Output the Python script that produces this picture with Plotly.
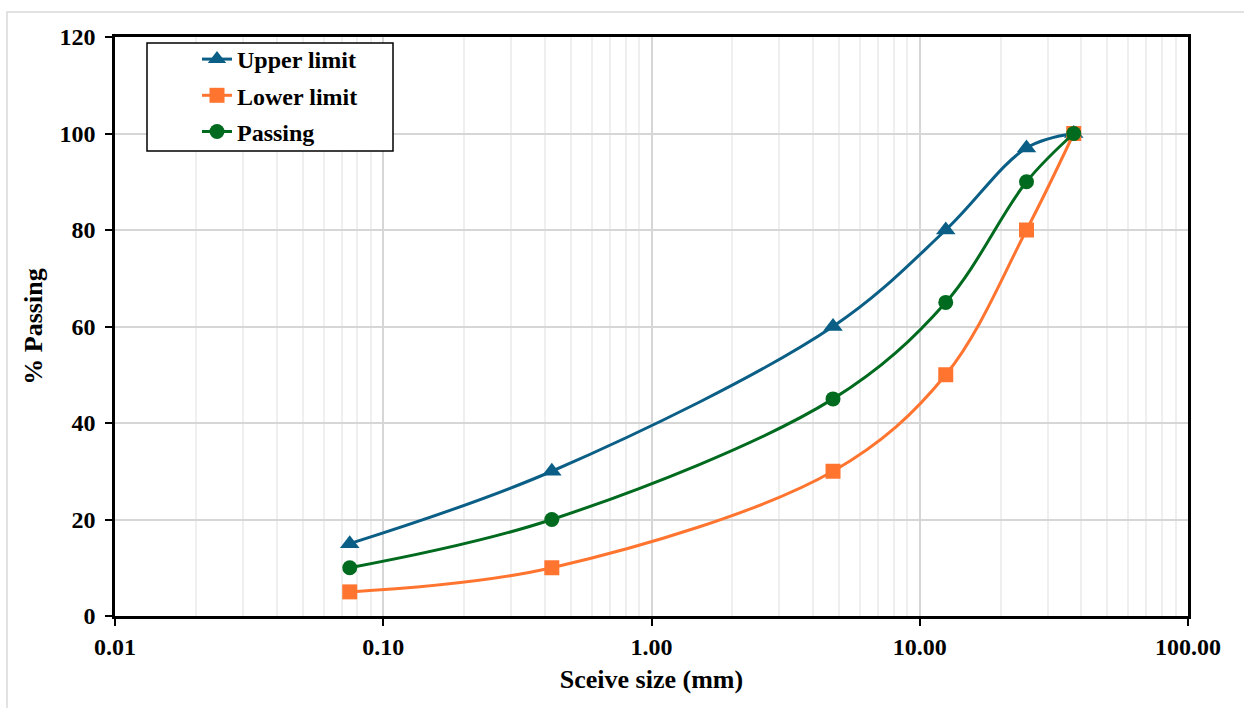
import plotly.graph_objects as go

sieve_mm = [0.075, 0.425, 4.75, 12.5, 25, 37.5]
upper_limit = [15, 30, 60, 80, 97, 100]
lower_limit = [5, 10, 30, 50, 80, 100]
passing = [10, 20, 45, 65, 90, 100]

x_tickvals = [0.01, 0.1, 1, 10, 100]
x_ticktext = ["0.01", "0.10", "1.00", "10.00", "100.00"]
y_tickvals = [0, 20, 40, 60, 80, 100, 120]

FONT = "Liberation Serif, Times New Roman, serif"

series = [
    ("Upper limit", upper_limit, "#0B5F86", "triangle-up", 17),
    ("Lower limit", lower_limit, "#FF7530", "square", 15),
    ("Passing", passing, "#006B1E", "circle", 15),
]

fig = go.Figure()
for name, vals, col, sym, msize in series:
    fig.add_trace(go.Scatter(
        x=sieve_mm, y=vals, name=name, mode="lines+markers",
        legendgroup=name,
        line=dict(color=col, width=3, shape="spline", smoothing=1.0),
        marker=dict(color=col, symbol=sym, size=msize),
    ))

W, H = 1244, 708
L, R, T, B = 115, 1188, 37, 616
pw, ph = R - L, B - T

def px(xp):
    return (xp - L) / pw

def py(yp):
    return (B - yp) / ph

fig.update_layout(
    width=W, height=H,
    margin=dict(l=L, r=W - R, t=T, b=H - B),
    paper_bgcolor="white", plot_bgcolor="white",
    font=dict(family=FONT, size=24, color="black"),
    showlegend=True,
    legend=dict(
        x=px(197), y=py(37), xanchor="left", yanchor="top",
        borderwidth=0, bgcolor="rgba(0,0,0,0)",
        font=dict(family=FONT, size=24, color="black", weight="bold"),
        tracegroupgap=2, itemwidth=30, traceorder="grouped",
    ),
    shapes=[
        dict(type="rect", xref="paper", yref="paper",
             x0=px(7), x1=px(1260), y0=py(12), y1=py(730),
             line=dict(color="#D9D9D9", width=1.5), layer="below"),
        dict(type="rect", xref="paper", yref="paper",
             x0=px(147), x1=px(393), y0=py(43), y1=py(151),
             line=dict(color="black", width=1.5), fillcolor="white", layer="above"),
    ],
)

fig.update_xaxes(
    type="log", range=[-2, 2],
    tickvals=x_tickvals, ticktext=x_ticktext,
    tickfont=dict(family=FONT, size=24, color="black", weight="bold"),
    ticks="outside", ticklen=7, tickwidth=2, tickcolor="black",
    showline=True, linecolor="black", linewidth=2.5, mirror=True,
    showgrid=True, gridcolor="#D6D6D6", gridwidth=1.5,
    minor=dict(showgrid=True, gridcolor="#EFEFEF", gridwidth=1.5, ticks="",
               tickvals=[m * 10 ** e for e in range(-2, 2) for m in range(2, 10)]),
    title=dict(text="Sceive size (mm)", standoff=12,
               font=dict(family=FONT, size=26, color="black", weight="bold")),
    zeroline=False,
)
fig.update_yaxes(
    range=[0, 120], tickvals=y_tickvals,
    tickfont=dict(family=FONT, size=24, color="black", weight="bold"),
    ticks="outside", ticklen=7, tickwidth=2, tickcolor="black",
    ticklabelstandoff=5,
    showline=True, linecolor="black", linewidth=2.5, mirror=True,
    showgrid=True, gridcolor="#D6D6D6", gridwidth=1.5,
    title=dict(text="% Passing", standoff=10,
               font=dict(family=FONT, size=26, color="black", weight="bold")),
    zeroline=False,
)

fig.write_html("out.html")
